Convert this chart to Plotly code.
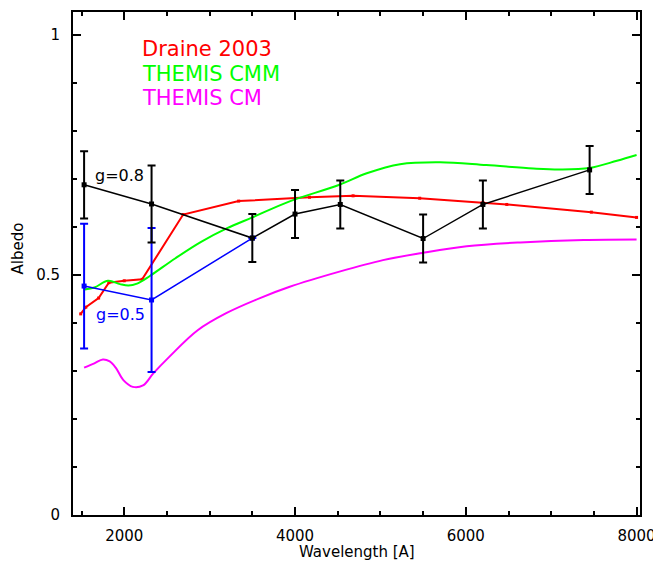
import plotly.graph_objects as go

# ---- data ----
draine_x = [1490, 1550, 1700, 1820, 2000, 2210, 2690, 3340, 4170, 4680, 5460, 6200, 6480, 7470, 8000]
draine_y = [0.419, 0.433, 0.452, 0.484, 0.488, 0.491, 0.626, 0.654, 0.662, 0.665, 0.660, 0.651, 0.647, 0.631, 0.620]

cmm_x = [1540, 1650, 1810, 1950, 2050, 2150, 2300, 2600, 2900, 3200, 3500, 3930, 4520, 4840, 5230,
         5700, 6240, 6790, 7100, 7450, 7770, 8000]
cmm_y = [0.470, 0.474, 0.488, 0.481, 0.478, 0.482, 0.498, 0.535, 0.569, 0.597, 0.620, 0.653, 0.688,
         0.712, 0.731, 0.735, 0.729, 0.722, 0.720, 0.723, 0.738, 0.750]

cm_x = [1530, 1650, 1750, 1830, 1900, 1990, 2100, 2220, 2340, 2530, 2860, 3200, 3590, 3930, 4520,
        5030, 5490, 6010, 6640, 7380, 8000]
cm_y = [0.307, 0.316, 0.324, 0.320, 0.307, 0.281, 0.267, 0.270, 0.295, 0.330, 0.385, 0.421, 0.452,
        0.475, 0.507, 0.531, 0.546, 0.560, 0.568, 0.573, 0.574]

g08_x = [1530, 2320, 3500, 4000, 4530, 5500, 6200, 7450]
g08_y = [0.688, 0.648, 0.577, 0.627, 0.647, 0.576, 0.647, 0.719]
g08_err = [0.07, 0.08, 0.05, 0.05, 0.05, 0.05, 0.05, 0.05]

g05_x = [1530, 2320, 3500]
g05_y = [0.477, 0.448, 0.577]
g05_err = [0.13, 0.15, 0.0]

legend_labels = ["Draine 2003", "THEMIS CMM", "THEMIS CM"]
legend_colors = ["#ff0000", "#00ff00", "#ff00ff"]
legend_y = [0.971, 0.919, 0.869]

FONT = "DejaVu Sans"

fig = go.Figure()

fig.add_trace(go.Scatter(x=draine_x, y=draine_y, mode="lines+markers",
                         line=dict(color="#ff0000", width=2),
                         marker=dict(symbol="square", size=3, color="#ff0000")))
fig.add_trace(go.Scatter(x=cmm_x, y=cmm_y, mode="lines",
                         line=dict(color="#00ff00", width=2, shape="spline", smoothing=1)))
fig.add_trace(go.Scatter(x=cm_x, y=cm_y, mode="lines",
                         line=dict(color="#ff00ff", width=2, shape="spline", smoothing=1)))

fig.add_trace(go.Scatter(x=g05_x, y=g05_y, mode="lines+markers",
                         line=dict(color="#0000ff", width=1.5),
                         marker=dict(symbol="square", size=5, color="#0000ff"),
                         error_y=dict(type="data", array=g05_err, visible=True,
                                      color="#0000ff", thickness=2, width=4)))
fig.add_trace(go.Scatter(x=g08_x, y=g08_y, mode="lines+markers",
                         line=dict(color="#000000", width=1.5),
                         marker=dict(symbol="square", size=5, color="#000000"),
                         error_y=dict(type="data", array=g08_err, visible=True,
                                      color="#000000", thickness=2, width=4)))

annotations = []
for lab, col, yy in zip(legend_labels, legend_colors, legend_y):
    annotations.append(dict(x=2183, y=yy, xref="x", yref="y", text=lab, showarrow=False,
                            xanchor="left", yanchor="middle",
                            font=dict(family=FONT, size=21, color=col)))
annotations.append(dict(x=1940, y=0.708, xref="x", yref="y", text="g=0.8", showarrow=False,
                        xanchor="center", yanchor="middle",
                        font=dict(family=FONT, size=16, color="#000000")))
annotations.append(dict(x=1954, y=0.417, xref="x", yref="y", text="g=0.5", showarrow=False,
                        xanchor="center", yanchor="middle",
                        font=dict(family=FONT, size=16, color="#0000ff")))
annotations.append(dict(x=0.5, y=0, xref="paper", yref="paper", text="Wavelength [A]",
                        showarrow=False, xanchor="center", yanchor="middle", yshift=-37,
                        font=dict(family=FONT, size=15, color="#000000")))
annotations.append(dict(x=0, y=0.53, xref="paper", yref="paper", text="Albedo",
                        showarrow=False, xanchor="center", yanchor="middle", xshift=-55,
                        textangle=-90, font=dict(family=FONT, size=15, color="#000000")))

axis_common = dict(showline=True, linecolor="#000000", linewidth=2, mirror="ticks",
                   ticks="inside", ticklen=8, tickwidth=1.5, tickcolor="#000000",
                   showgrid=False, zeroline=False, automargin=False,
                   ticklabeloverflow="allow",
                   tickfont=dict(family=FONT, size=15, color="#000000"))

# page body adds an 8 px offset, so the figure is sized/margined to compensate
fig.update_layout(
    width=653, height=554,
    margin=dict(l=65, r=21, t=4, b=47),
    paper_bgcolor="white", plot_bgcolor="white",
    showlegend=False,
    annotations=annotations,
    xaxis=dict(range=[1400, 8040], tick0=0, dtick=2000, ticklabelstandoff=6,
               minor=dict(tick0=0, dtick=500, ticks="inside", ticklen=4, tickwidth=1.5,
                          tickcolor="#000000", showgrid=False),
               **axis_common),
    yaxis=dict(range=[0, 1.048], tick0=0, dtick=0.5, ticklabelstandoff=8,
               minor=dict(tick0=0, dtick=0.1, ticks="inside", ticklen=4, tickwidth=1.5,
                          tickcolor="#000000", showgrid=False),
               **axis_common),
)

fig.write_html("out.html")
